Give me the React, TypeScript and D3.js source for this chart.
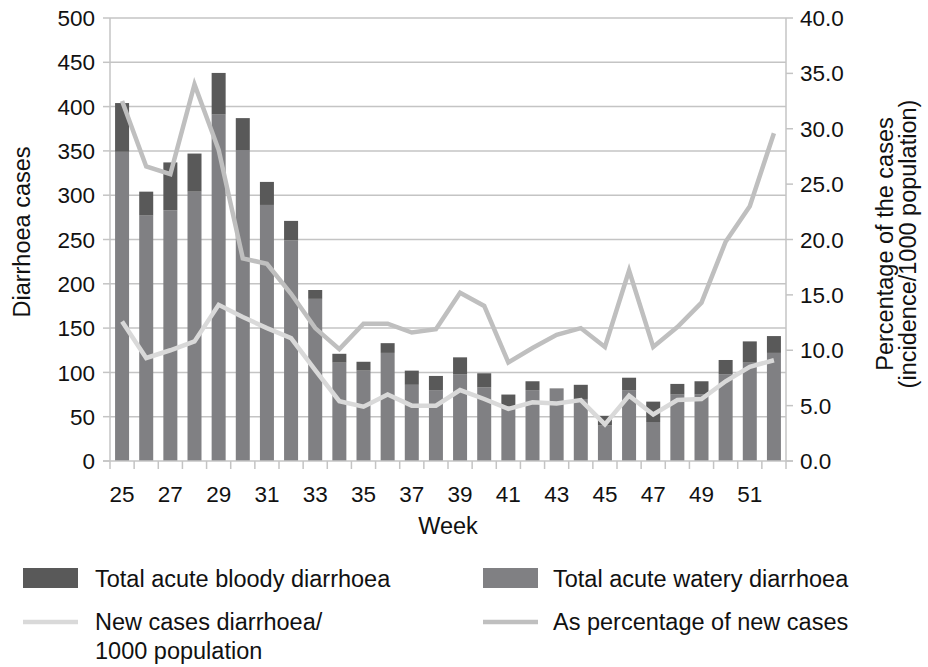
import React from "react";
import * as d3 from "d3";

const weeks = [25, 26, 27, 28, 29, 30, 31, 32, 33, 34, 35, 36, 37, 38, 39, 40, 41, 42, 43, 44, 45, 46, 47, 48, 49, 50, 51, 52];
const watery = [349, 277, 283, 304, 391, 351, 289, 249, 183, 111, 102, 122, 86, 80, 98, 83, 62, 80, 82, 70, 40, 80, 44, 75, 75, 98, 111, 122];
const bloody = [55, 27, 54, 43, 47, 36, 26, 22, 10, 10, 10, 11, 16, 16, 19, 16, 13, 10, 0, 16, 11, 14, 23, 12, 15, 16, 24, 19];
const newCases = [12.6, 9.3, 10.0, 10.8, 14.1, 13.0, 12.0, 11.1, 8.2, 5.4, 4.9, 6.0, 5.0, 5.0, 6.4, 5.6, 4.7, 5.3, 5.2, 5.5, 3.3, 5.9, 4.2, 5.5, 5.6, 7.2, 8.5, 9.1];
const percent = [32.5, 26.6, 25.9, 34.0, 28.1, 18.3, 17.8, 15.1, 12.0, 10.1, 12.4, 12.4, 11.6, 11.9, 15.2, 14.0, 8.9, 10.2, 11.4, 12.0, 10.3, 17.2, 10.3, 12.1, 14.3, 19.8, 23.0, 29.6];
const leftTicks = [0, 50, 100, 150, 200, 250, 300, 350, 400, 450, 500];
const rightTicks = [0, 5, 10, 15, 20, 25, 30, 35, 40];
const xLabels = [25, 27, 29, 31, 33, 35, 37, 39, 41, 43, 45, 47, 49, 51];

const FONT = "'Liberation Sans', Arial, Helvetica, sans-serif";
const C_BLOODY = "#595959";
const C_WATERY = "#808083";
const C_NEW = "#d9d9d9";
const C_PCT = "#bfbfbf";
const C_GRID = "#c4c4c4";

export default function App() {
  const L = 110, R = 786, T = 18, B = 461;
  const x = d3.scaleBand<number>().domain(weeks).range([L, R]).paddingInner(0.42).paddingOuter(0.21);
  const step = x.step();
  const y = d3.scaleLinear().domain([0, 500]).range([B, T]);
  const y2 = d3.scaleLinear().domain([0, 40]).range([B, T]);
  const cx = (w: number) => (x(w) as number) + x.bandwidth() / 2;
  const lineNew = d3.line<number>().x((_, i) => cx(weeks[i])).y((d) => y2(d));
  const linePct = d3.line<number>().x((_, i) => cx(weeks[i])).y((d) => y2(d));
  const tickStyle: React.CSSProperties = { fontFamily: FONT, fontSize: 22.5, fill: "#111" };
  const textStyle: React.CSSProperties = { fontFamily: FONT, fontSize: 23.5, fill: "#111" };
  const boundaries = weeks.map((_, i) => L + i * step).concat([R]);

  return (
    <svg width={928} height={667} style={{ position: "absolute", left: 0, top: 0, background: "#fff" }}>
      {/* gridlines */}
      {leftTicks.slice(1).map((t) => (
        <line key={"g" + t} x1={L} x2={R} y1={y(t)} y2={y(t)} stroke={C_GRID} strokeWidth={1.5} />
      ))}
      {/* bars */}
      {weeks.map((w, i) => (
        <g key={"b" + w}>
          <rect x={x(w)} width={x.bandwidth()} y={y(watery[i])} height={B - y(watery[i])} fill={C_WATERY} />
          {bloody[i] > 0 && (
            <rect x={x(w)} width={x.bandwidth()} y={y(watery[i] + bloody[i])} height={y(watery[i]) - y(watery[i] + bloody[i])} fill={C_BLOODY} />
          )}
        </g>
      ))}
      {/* axes */}
      <line x1={L} x2={L} y1={T} y2={B} stroke={C_GRID} strokeWidth={1.5} />
      <line x1={R} x2={R} y1={T} y2={B} stroke={C_GRID} strokeWidth={1.5} />
      <line x1={L - 7} x2={R + 7} y1={B} y2={B} stroke={C_GRID} strokeWidth={1.5} />
      {leftTicks.map((t) => (
        <g key={"lt" + t}>
          <line x1={L - 7} x2={L} y1={y(t)} y2={y(t)} stroke={C_GRID} strokeWidth={1.5} />
          <text x={L - 15} y={y(t)} dy="0.36em" textAnchor="end" style={tickStyle}>{t}</text>
        </g>
      ))}
      {rightTicks.map((t) => (
        <g key={"rt" + t}>
          <line x1={R} x2={R + 7} y1={y2(t)} y2={y2(t)} stroke={C_GRID} strokeWidth={1.5} />
          <text x={R + 14} y={y2(t)} dy="0.36em" textAnchor="start" style={tickStyle}>{t.toFixed(1)}</text>
        </g>
      ))}
      {boundaries.map((bx, i) => (
        <line key={"xt" + i} x1={bx} x2={bx} y1={B} y2={B + 8} stroke={C_GRID} strokeWidth={1.5} />
      ))}
      {xLabels.map((w) => (
        <text key={"xl" + w} x={cx(w)} y={B + 41} textAnchor="middle" style={tickStyle}>{w}</text>
      ))}
      <text x={(L + R) / 2} y={534} textAnchor="middle" style={textStyle}>Week</text>
      <text transform={`translate(30,232) rotate(-90)`} textAnchor="middle" style={textStyle}>Diarrhoea cases</text>
      <text transform={`translate(893,244) rotate(-90)`} textAnchor="middle" style={textStyle}>Percentage of the cases</text>
      <text transform={`translate(916,244) rotate(-90)`} textAnchor="middle" style={textStyle}>(incidence/1000 population)</text>
      {/* lines */}
      <path d={lineNew(newCases) || ""} fill="none" stroke={C_NEW} strokeWidth={4.5} strokeLinejoin="miter" />
      <path d={linePct(percent) || ""} fill="none" stroke={C_PCT} strokeWidth={4.5} strokeLinejoin="miter" />
      {/* legend */}
      <rect x={23} y={568} width={55} height={20} fill={C_BLOODY} />
      <text x={95} y={587} style={textStyle}>Total acute bloody diarrhoea</text>
      <rect x={483} y={568} width={55} height={20} fill={C_WATERY} />
      <text x={553} y={587} style={textStyle}>Total acute watery diarrhoea</text>
      <line x1={23} x2={78} y1={622} y2={622} stroke={C_NEW} strokeWidth={4.5} />
      <text x={95} y={630} style={textStyle}>New cases diarrhoea/</text>
      <text x={95} y={659} style={textStyle}>1000 population</text>
      <line x1={483} x2={538} y1={622} y2={622} stroke={C_PCT} strokeWidth={4.5} />
      <text x={553} y={630} style={textStyle}>As percentage of new cases</text>
    </svg>
  );
}
